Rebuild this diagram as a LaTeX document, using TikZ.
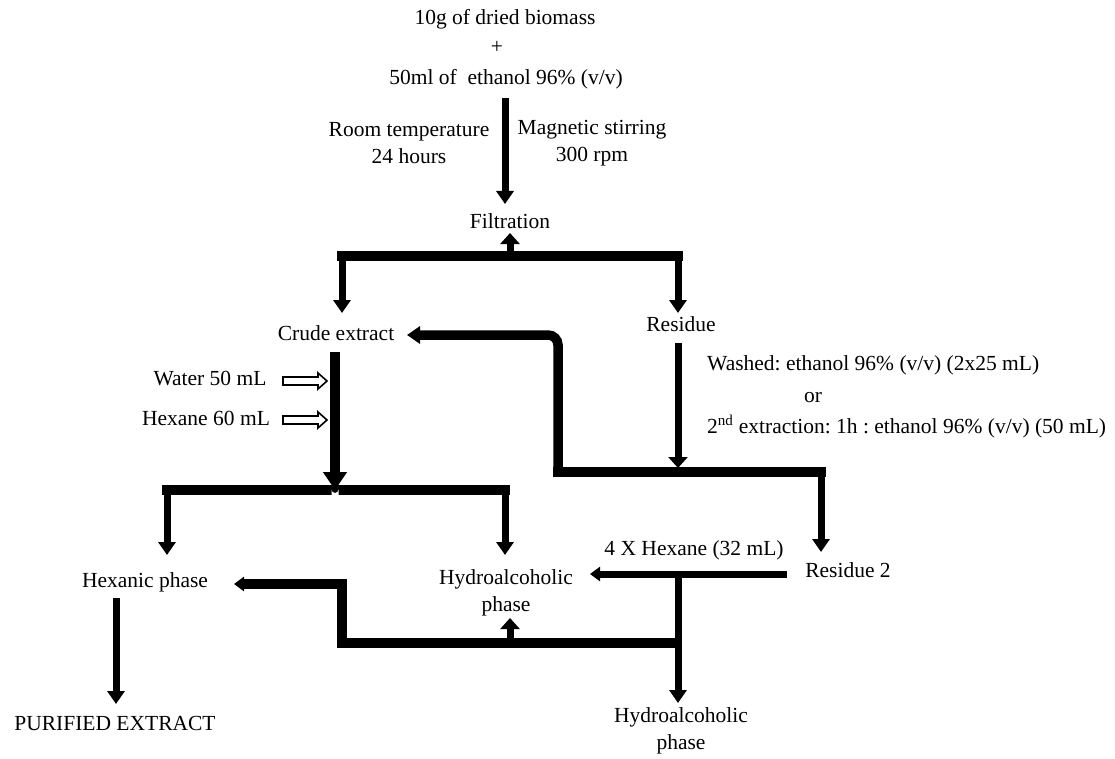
\documentclass[tikz,border=0pt]{standalone}
\usepackage{fontspec}
\setmainfont{Liberation Serif}
\usetikzlibrary{arrows.meta}
\frenchspacing
\tikzset{
  lbl/.style={font=\fontsize{21.5}{27}\selectfont, inner sep=0pt, align=center, text=black},
  barline/.style={line width=9.5pt},
  shaft/.style={line width=7pt},
  TriM/.tip={Triangle[width=17pt,length=13pt]},
  TriS/.tip={Triangle[width=19pt,length=11pt]},
  TriH/.tip={Triangle[width=14pt,length=10pt]},
  TriL/.tip={Triangle[width=23pt,length=18pt]},
  hollow/.style={line width=1.6pt, fill=white, line join=miter},
}
\begin{document}
\begin{tikzpicture}[x=1pt,y=-1pt]
\useasboundingbox (0,0) rectangle (1115,759);
% ---------- texts ----------
\node[lbl, anchor=base] (bio) at (505,25) {10g of dried biomass};
\node[lbl, anchor=base] (plus) at (497,54) {+};
\node[lbl, anchor=base] (eth) at (506,85) {50ml of \ ethanol 96\% (v/v)};
\node[lbl] (room) at (409,143) {Room temperature\\24 hours};
\node[lbl] (mag) at (592,143) {Magnetic stirring\\300 rpm};
\node[lbl, anchor=base] (filt) at (510,229) {Filtration};
\node[lbl, anchor=base] (crude) at (336,340) {Crude extract};
\node[lbl, anchor=base] (res) at (681,331) {Residue};
\node[lbl, anchor=base] (water) at (210,385) {Water 50 mL};
\node[lbl, anchor=base] (hex60) at (206,425) {Hexane 60 mL};
\node[lbl, anchor=base west] (wash) at (707,370) {Washed: ethanol 96\% (v/v) (2x25 mL)};
\node[lbl, anchor=base] (or) at (813,402) {or};
\node[lbl, anchor=base west] (second) at (707,433) {2\textsuperscript{nd} extraction: 1h : ethanol 96\% (v/v) (50 mL)};
\node[lbl, anchor=base] (res2) at (848,577) {Residue 2};
\node[lbl, anchor=base] (hexph) at (145,587) {Hexanic phase};
\node[lbl] (hydro1) at (506,593) {Hydroalcoholic\\phase};
\node[lbl, anchor=base] (hex32) at (694,555) {4 X Hexane (32 mL)};
\node[lbl] (hydro2) at (681,731) {Hydroalcoholic\\phase};
\node[lbl, anchor=base] (pur) at (115,730) {PURIFIED EXTRACT};
% ---------- junction coordinates ----------
\coordinate (fj) at (510,256);
\coordinate (fL) at (342,256);
\coordinate (fR) at (678,256);
\coordinate (crudeIn) at (342,313);
\coordinate (resIn) at (678,313);
\coordinate (ret0) at (407,335);
\coordinate (ret1) at (558,335);
\coordinate (ret2) at (558,472);
\coordinate (ret3) at (821,472);
\coordinate (res2In) at (821,552);
\coordinate (resOut) at (678,343);
\coordinate (resJ) at (678,468);
\coordinate (cOut) at (335,352);
\coordinate (cJ) at (335,490);
\coordinate (sL) at (167,490);
\coordinate (sR) at (505,490);
\coordinate (hexIn) at (167,555);
\coordinate (hyIn) at (505,555);
\coordinate (h32a) at (787,574);
\coordinate (h32b) at (590,574);
\coordinate (h32j) at (678,574);
\coordinate (hy2In) at (678,703);
\coordinate (bL) at (234,584);
\coordinate (bC) at (342,584);
\coordinate (bD) at (342,643);
\coordinate (bR) at (682,643);
\coordinate (bUp) at (510,643);
\coordinate (hy1In) at (510,618);
\coordinate (hpOut) at (116,598);
\coordinate (purIn) at (116,704);
% ---------- connectors ----------
\draw[shaft, -TriM] (505,98) -- (505,204);
\draw[shaft, -TriS] (fj) -- (510,233);
\draw[barline, line cap=rect] (fL) -- (fR);
\draw[shaft, -TriM] (fL) -- (crudeIn);
\draw[shaft, -TriM] (fR) -- (resIn);
% return from residue line to crude extract
\draw[barline, TriM-, rounded corners=10pt] (ret0) -- (ret1) -- (ret2);
\draw[barline, line cap=rect] (ret2) -- (ret3);
\draw[shaft, -TriM] (ret3) -- (res2In);
\draw[shaft, -TriS] (resOut) -- (resJ);
% crude extract separation
\draw[barline, line cap=rect] (sL) -- (sR);
\draw[shaft, -TriM] (sL) -- (hexIn);
\draw[shaft, -TriM] (sR) -- (hyIn);
\draw[line width=10pt, -TriL] (cOut) -- (cJ);
\fill[white] (331.5,495.5) -- (331.5,489.5) arc[start angle=180, end angle=0, radius=3.5] -- (338.5,495.5) -- cycle;
% hollow addition arrows
\draw[hollow] (283,377) -- (318,377) -- (318,373) -- (327,381) -- (318,389) -- (318,385) -- (283,385) -- cycle;
\draw[hollow] (283,416) -- (318,416) -- (318,412) -- (327,420) -- (318,428) -- (318,424) -- (283,424) -- cycle;
% residue 2 extraction
\draw[shaft, -TriH] (h32a) -- (h32b);
\draw[shaft, -TriM] (h32j) -- (hy2In);
\draw[barline, TriH-] (bL) -- (bC) -- (bD) -- (bR);
\draw[shaft, -TriS] (bUp) -- (hy1In);
\draw[shaft, -TriM] (hpOut) -- (purIn);
\end{tikzpicture}
\end{document}
